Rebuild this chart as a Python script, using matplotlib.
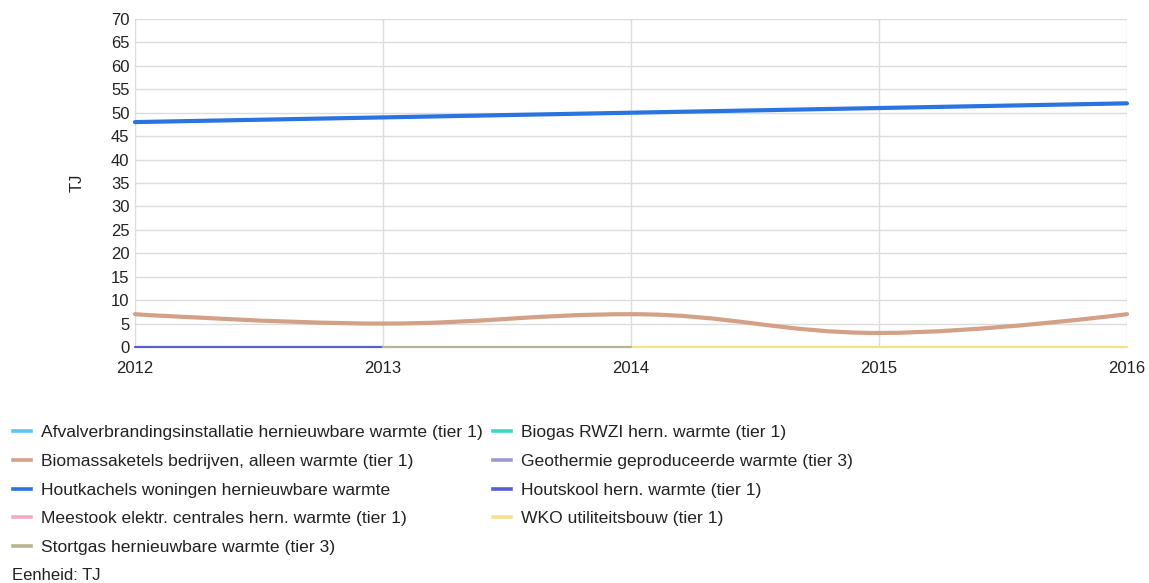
import numpy as np
import matplotlib
matplotlib.use("Agg")
import matplotlib.pyplot as plt
from matplotlib.path import Path
from matplotlib.patches import PathPatch
from matplotlib.lines import Line2D

plt.rcParams['font.family'] = ['Liberation Sans', 'DejaVu Sans']

years = [2012, 2013, 2014, 2015, 2016]

# series values (TJ); None = no value that year
afval = [None, None, None, None, None]
biogas = [None, None, None, None, None]
biomassa = [7, 5, 7, 3, 7]
geothermie = [None, None, None, None, None]
houtkachels = [48, 49, 50, 51, 52]
houtskool = [0, 0, None, None, None]
meestook = [None, None, None, None, None]
wko = [None, None, 0, 0, 0]
stortgas = [None, 0, 0, None, None]

labels = [
    "Afvalverbrandingsinstallatie hernieuwbare warmte (tier 1)",
    "Biogas RWZI hern. warmte (tier 1)",
    "Biomassaketels bedrijven, alleen warmte (tier 1)",
    "Geothermie geproduceerde warmte (tier 3)",
    "Houtkachels woningen hernieuwbare warmte",
    "Houtskool hern. warmte (tier 1)",
    "Meestook elektr. centrales hern. warmte (tier 1)",
    "WKO utiliteitsbouw (tier 1)",
    "Stortgas hernieuwbare warmte (tier 3)",
]
colors = ["#5ec4f4", "#3ad8c6", "#d4a086", "#9a9ad2", "#2a74e0",
          "#5660d0", "#f7a9c4", "#f7e08c", "#b8b58e"]
series = [afval, biogas, biomassa, geothermie, houtkachels,
          houtskool, meestook, wko, stortgas]

fig = plt.figure(figsize=(11.49, 5.83), dpi=100)
ax = fig.add_axes([135 / 1149, 1 - 347 / 583, (1127 - 135) / 1149, (347 - 19) / 583])


def spline_path(xs, ys, smoothing=1.5):
    """Smooth curve through the points using cubic Bezier control points."""
    denom = smoothing + 1
    n = len(xs)
    left = [None] * n
    right = [None] * n
    for i in range(n):
        x, y = xs[i], ys[i]
        if 0 < i < n - 1:
            lx, ly = xs[i - 1], ys[i - 1]
            nx, ny = xs[i + 1], ys[i + 1]
            lcx = (smoothing * x + lx) / denom
            lcy = (smoothing * y + ly) / denom
            rcx = (smoothing * x + nx) / denom
            rcy = (smoothing * y + ny) / denom
            if rcx != lcx:
                corr = ((rcy - lcy) * (rcx - x)) / (rcx - lcx) + y - rcy
                lcy += corr
                rcy += corr
            if lcy > ly and lcy > y:
                lcy = max(ly, y)
                rcy = 2 * y - lcy
            elif lcy < ly and lcy < y:
                lcy = min(ly, y)
                rcy = 2 * y - lcy
            if rcy > ny and rcy > y:
                rcy = max(ny, y)
                lcy = 2 * y - rcy
            elif rcy < ny and rcy < y:
                rcy = min(ny, y)
                lcy = 2 * y - rcy
            left[i] = (lcx, lcy)
            right[i] = (rcx, rcy)
        else:
            left[i] = (x, y)
            right[i] = (x, y)
    verts = [(xs[0], ys[0])]
    codes = [Path.MOVETO]
    for i in range(1, n):
        verts += [right[i - 1], left[i], (xs[i], ys[i])]
        codes += [Path.CURVE4] * 3
    return Path(verts, codes)


for vals, col in zip(series, colors):
    pts = [(x, v) for x, v in zip(years, vals) if v is not None]
    if len(pts) < 2:
        continue
    xs = [p[0] for p in pts]
    ys = [p[1] for p in pts]
    big = max(ys) > 0
    lw = 3.0 if big else 1.6
    patch = PathPatch(spline_path(xs, ys), facecolor="none", edgecolor=col,
                      lw=lw, capstyle="round", joinstyle="round", zorder=3 if big else 2,
                      clip_on=False)
    ax.add_patch(patch)

ax.set_xlim(2012, 2016)
ax.set_ylim(0, 70)
ax.set_xticks(years)
ax.set_yticks(np.arange(0, 71, 5))
ax.grid(True, color="#dcdcdc", lw=1)
ax.set_axisbelow(True)
for s in ax.spines.values():
    s.set_visible(False)
ax.tick_params(length=0, labelsize=12, colors="#222222", pad=4)
ax.tick_params(axis="x", pad=10)
ax.set_ylabel("TJ", fontsize=12, color="#222222", labelpad=19)

# legend fills row by row: reorder so column-major layout reads across rows
ncol = 2
order = list(range(0, len(labels), ncol)) + list(range(1, len(labels), ncol))
handles = [Line2D([], [], color=colors[i], lw=2.6) for i in order]
leg_labels = [labels[i] for i in order]
leg = fig.legend(handles, leg_labels, ncol=ncol, loc="upper left",
                 bbox_to_anchor=(6 / 1149, 1 - 418 / 583), frameon=False,
                 fontsize=12.6, handlelength=1.03, handletextpad=0.57,
                 columnspacing=0.6, labelspacing=0.77, borderaxespad=0)
for t in leg.get_texts():
    t.set_color("#222222")

fig.text(12 / 1149, 1 - 576 / 583, "Eenheid: TJ", fontsize=12, color="#222222",
         va="center", ha="left")

fig.savefig("out.png", dpi=100, facecolor="white")
